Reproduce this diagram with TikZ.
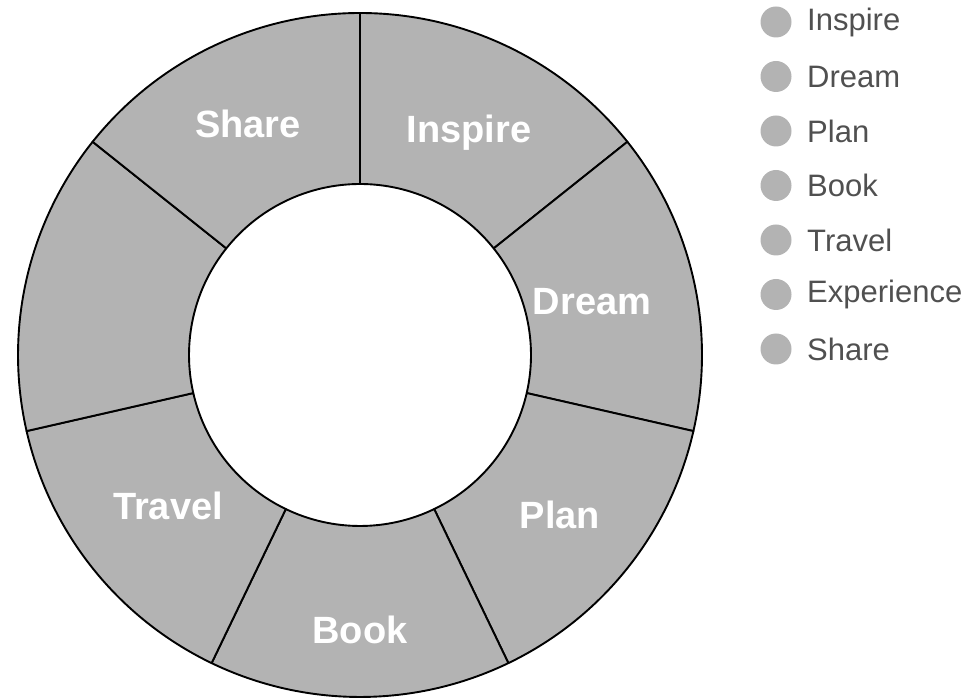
\documentclass[tikz,border=0pt]{standalone}
\usepackage{fontspec}
\setmainfont{Liberation Sans}
\definecolor{seg}{HTML}{B3B3B3}
\definecolor{legtext}{HTML}{505050}
\begin{document}
\begin{tikzpicture}[x=1pt,y=1pt,
  segment/.style={fill=seg,draw=black,line width=1.9pt,line join=round},
  seglabel/.style={text=white,font=\fontsize{38}{42}\selectfont\bfseries,inner sep=0pt,anchor=base},
  legdot/.style={circle,fill=seg,minimum size=31pt,inner sep=0pt},
  legtxt/.style={text=legtext,font=\fontsize{31}{35}\selectfont,anchor=west,inner sep=0pt}]
\useasboundingbox (0,0) rectangle (974,699);
\coordinate (c) at (360,344);
\def\Ro{342}\def\Ri{171}
\foreach \i in {0,...,6}{
  \pgfmathsetmacro{\aa}{90-\i*360/7}
  \pgfmathsetmacro{\ab}{\aa-360/7}
  \draw[segment] ([shift={(\aa:\Ro)}]c) arc[start angle=\aa,end angle=\ab,radius=\Ro]
     -- ([shift={(\ab:\Ri)}]c) arc[start angle=\ab,end angle=\aa,radius=\Ri] -- cycle;
}
\node[seglabel] (l1) at (469,699-143) {Inspire};
\node[seglabel] (l2) at (592,699-315) {Dream};
\node[seglabel] (l3) at (560,699-528) {Plan};
\node[seglabel] (l4) at (360,699-643) {Book};
\node[seglabel] (l5) at (168,699-520) {Travel};
\node[seglabel] (l7) at (248,699-138) {Share};
\foreach \t [count=\k] in {Inspire,Dream,Plan,Book,Travel,Experience,Share}{
  \pgfmathsetmacro{\yy}{699-22-(\k-1)*54.5}
  \node[legdot] (d\k) at (776,\yy) {};
  \node[legtxt] (t\k) at (807,\yy) {\t};
}
\end{tikzpicture}
\end{document}
